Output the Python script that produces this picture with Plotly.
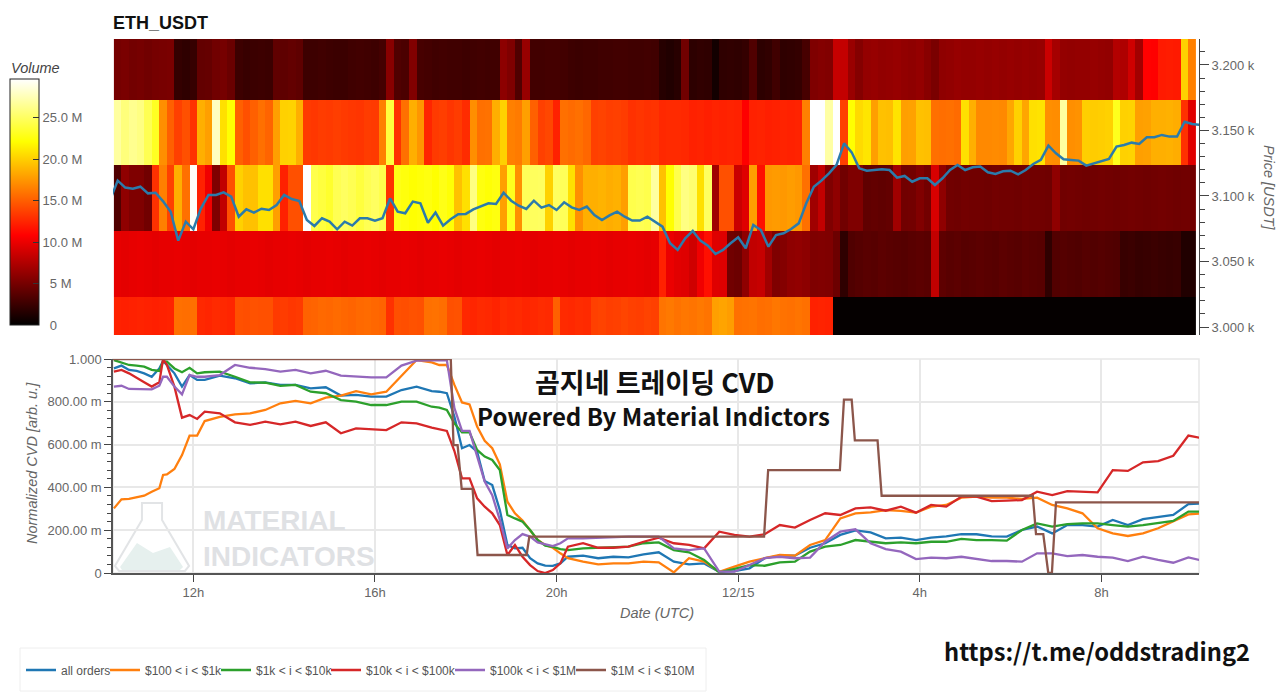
import numpy as np
import plotly.graph_objects as go

# volume per price bin, in millions, one value per 10 min column
vol_2998 = [12.3,12.2,12.3,12.4,12.3,12.2,12.3,12.4, 15.8,15.7,15.8, 12.6,12.5,12.7,12.6,12.5,
            14.4,14.3,14.5,14.4,14.4, 13.4,13.5,13.3,13.4, 15.2,15.3,15.5,15.4,15.6,15.4,15.3,15.5,15.6,15.4,15.3,
            13.0, 14.4,14.3,14.5,14.4, 15.8,15.9,15.7, 14.4,14.5,
            12.6,12.5,12.7,12.6,12.4,12.8,12.6,12.7,12.5,12.6,12.8,12.7, 15.1, 12.7,12.6,12.8,12.7,
            13.7,13.8,13.6,13.7,13.9,13.7,13.6,13.8,13.7,
            16.0,16.2,15.9,16.1,16.0,16.2,16.0, 17.9,18.1,17.8,
            15.8,15.9,16.0,15.7,15.8,16.1,15.9,15.8,16.0,15.8, 12.3,12.4,12.3,
            0.2,0.2,0.2,0.2,0.2,0.2,0.2,0.2,0.2,0.2,0.2,0.2,0.2,0.2,0.2,0.2,
            0.2,0.2,0.2,0.2,0.2,0.2,0.2,0.2,0.2,0.2,0.2,0.2,0.2,0.2,0.2,0.2,
            0.2,0.2,0.2,0.2,0.2,0.2,0.2,0.2,0.2,0.2,0.2,0.2,0.2,0.2,0.2,0.2]
vol_3048 = [9.8,9.7,9.8,9.9,9.8,9.7,9.8,9.8,9.9,9.8,9.7,9.8,9.8,9.9,9.8,9.7,9.8,9.8,9.9,9.8,9.7,9.8,9.8,9.9,
            9.8,9.7,9.8,9.8,9.9,9.8,9.7,9.8,9.8,9.9,9.8,9.7,9.8,9.8,9.9,9.8,9.7,9.8,9.8,9.9,9.8,9.7,9.8,9.8,
            9.9,9.8,9.7,9.8,9.8,9.9,9.8,9.7,9.8,9.8,9.9,9.8,9.7,9.8,9.8,9.9,9.8,9.7,9.8,9.8,9.9,9.8,9.7,9.8,
            12.3,10.0,9.6,9.5,8.8,10.2,11.5,9.5,9.4,4.8,4.6,6.1,8.2,8.4,6.8,5.4,5.6,6.1,6.2,6.0,5.4,5.5,5.4,4.6,2.0,
            3.4,3.6,3.8,3.7,3.9,3.8,3.7,3.6,3.8,3.9,3.8,8.2,4.0,3.8,3.9,3.7,3.8,3.9,3.8,3.7,3.9,3.8,3.7,3.9,3.8,3.7,
            2.0,3.5,3.6,3.5,3.4,3.6,3.5,3.6,3.5,3.4,2.4,2.5,2.3,2.4,2.5,2.4,2.3,2.4,1.4,1.4]
vol_3098 = [3.4,6.1,5.4,5.4,4.8,13.0,16.5,13.7,18.6,15.8,29.5,12.3,10.2,5.4,8.2,14.4,20.1,19.4,19.4,20.8,20.8,17.9,12.3,14.4,14.4,
            29.7,24.4,24.0,23.5,24.6,25.0,24.6,24.0,24.6,25.0,24.4,13.0,22.8,22.5,22.2,22.4,22.6,22.2,22.8,22.3,19.4,20.8,26.0,22.6,22.3,22.6,
            17.9,23.0,17.2,24.8,24.9,25.0,20.1,25.0,24.8,20.8,17.2,18.6,18.6,18.8,18.5,18.7,17.9,24.4,24.6,24.4,26.9,19.4,22.2,24.4,26.0,25.5,20.8,25.0,
            6.8,14.4,14.4,8.6,9.5,17.9,11.5,17.6,17.7,17.6,17.8,17.6,15.8,6.8,8.2,5.4,6.1,4.8,5.4,5.4,4.1,4.2,4.1,4.2,6.8,4.8,4.9,5.5,4.9,9.2,6.1,
            4.8,4.7,4.9,4.8,4.8,4.7,4.9,4.8,4.8,4.7,4.9,4.8,4.8,4.7,6.1,4.8,4.9,4.8,4.7,4.8,4.9,4.8,4.7,4.8,4.9,4.8,4.7,4.8,4.9,4.8,4.7,4.8,4.8]
vol_3148 = [26.9,25.8,26.4,26.0,24.6,23.2,17.2,15.1,13.7,14.4,13.0,18.6,17.9,27.8,20.8,22.2,15.1,14.4,15.1,15.8,15.3,17.9,20.1,20.2,18.6,
            13.4,13.3,13.5,13.4,13.6,13.4,13.3,13.2,13.5,13.4,16.5,24.0,13.0,15.8,18.6,17.5,12.5,13.4,13.6,13.2,13.5,12.8,17.2,15.8,15.9,18.6,20.1,
            16.5,16.3,17.9,15.1,13.7,14.0,12.3,15.8,15.6,15.8,15.4,13.7,13.8,13.6,13.7,13.5,13.0,13.2,13.0,13.1,12.6,12.7,12.7,12.6,12.3,12.4,12.2,
            12.4,12.3,12.4,12.3,10.8,12.3,12.4,12.2,12.3,12.4,12.3,12.4,16.5,29.7,29.7,27.0,29.7,13.7,22.2,20.5,21.0,17.9,19.4,19.3,20.9,17.9,18.0,
            19.4,19.3,15.8,15.7,15.8,15.6,20.8,18.6,16.9,16.9,17.0,16.9,18.2,20.1,18.2,20.8,20.9,17.2,17.1,26.9,17.2,17.3,20.0,19.9,20.0,20.1,23.0,
            20.1,20.2,17.9,18.0,18.6,18.6,18.7,18.5,13.0,9.5]
vol_3198 = [5.0,5.2,4.9,5.0,4.8,5.0,5.1,5.2,2.2,2.0,2.3,4.2,4.3,4.8,5.0,4.5,2.6,2.4,2.5,2.6,2.5,4.1,4.0,4.2,4.0,
            2.6,2.6,2.7,2.6,2.5,2.5,2.7,2.8,2.7,2.6,2.9,5.8,3.4,3.2,5.5,3.0,2.9,2.7,2.8,2.7,2.7,2.6,2.7,2.8,2.7,2.7,
            6.0,5.4,3.4,6.4,2.8,2.8,2.9,2.9,2.8,2.6,2.5,2.6,2.6,2.7,2.7,2.8,2.8,2.7,2.7,2.8,2.7,1.6,1.4,1.7,4.8,1.9,2.1,2.0,0.8,
            2.0,2.1,2.0,2.2,3.4,1.9,2.1,2.7,2.0,2.1,2.2,3.0,5.4,5.6,5.5,8.4,8.3,6.5,5.6,6.3,6.4,6.2,6.3,6.4,6.2,6.1,6.3,5.8,5.2,
            6.1,6.2,6.4,6.3,6.3,6.4,6.3,6.4,6.3,6.4,6.3,6.4,6.3,6.4,8.6,7.0,6.3,6.2,6.3,6.3,6.4,6.3,6.2,7.6,7.4,8.8,6.9,10.9,10.8,12.0,12.1,12.0,20.1,16.5]
price_bins = [2998.5, 3048.5, 3098.5, 3148.5, 3198.5]

price = [3096.9,3111.7,3106.4,3105.6,3107.1,3102.0,3102.5,3095.9,3088.0,3065.9,3080.4,3074.6,3090.6,3100.8,3100.8,
         3102.8,3099.5,3084.2,3089.8,3087.3,3090.3,3089.3,3093.1,3100.8,3097.7,3096.2,3081.7,3077.1,3083.0,3080.4,
         3074.6,3080.4,3077.4,3083.0,3083.0,3081.2,3083.0,3098.2,3088.0,3086.8,3095.7,3094.4,3079.6,3087.3,3077.4,
         3082.2,3086.0,3086.3,3089.8,3091.9,3094.4,3093.9,3102.5,3096.4,3092.6,3090.1,3096.4,3091.1,3093.1,3089.3,
         3095.2,3091.3,3089.3,3091.9,3085.5,3081.7,3085.2,3088.0,3084.2,3081.2,3081.2,3084.2,3080.4,3076.6,3063.9,
         3058.8,3067.7,3073.3,3065.9,3062.1,3055.7,3058.8,3063.9,3068.4,3060.1,3077.9,3074.0,3061.3,3070.2,3071.5,
         3074.8,3079.1,3094.4,3107.1,3111.7,3117.3,3123.7,3140.2,3133.3,3121.1,3119.3,3119.6,3120.4,3119.8,3114.0,
         3115.3,3110.9,3113.5,3113.5,3108.4,3113.5,3119.8,3123.7,3119.8,3121.9,3122.4,3118.1,3116.8,3118.8,3119.3,
         3116.5,3119.8,3124.4,3127.5,3138.4,3132.6,3128.0,3127.5,3127.0,3123.2,3124.9,3126.7,3128.2,3137.7,3138.9,
         3140.7,3139.7,3144.8,3144.8,3146.6,3145.3,3145.3,3156.7,3155.0,3154.2]

# normalized cvd, read every 20 min, closer together where the lines move fast
cvd_hours = ([10.25, 10.417, 10.583, 10.75, 10.917, 11.083, 11.25, 11.333, 11.417, 11.583, 11.75, 11.917, 12.083]
             + list(np.arange(12.25, 17.2, 1 / 3))
             + [17.25, 17.417, 17.583, 17.75, 17.917, 18.083, 18.25, 18.417, 18.583, 18.75, 18.917, 19.083, 19.25,
                19.417, 19.583, 19.75, 19.917, 20.083, 20.25]
             + list(np.arange(20.5833, 34.3, 1 / 3)))
cvd_all = [.956,.969,.949,.944,.933,.917,.956,.991,.972,.933,.871,.925,.902,
           .902,.922,.91,.886,.891,.879,.879,.863,.868,.829,.832,.824,.824,.855,.871,
           .85,.847,.84,.73,.583,.598,.567,.43,.411,.294,.131,.115,.118,.069,.045,.034,.033,.045,.076,
           .081,.069,.076,.073,.087,.097,.053,.04,.045,.006,.009,.022,.069,.081,.081,.118,.139,
           .178,.199,.19,.162,.165,.154,.165,.171,.182,.181,.171,.17,.201,.217,.185,.224,.224,.217,.248,.224,.252,.263,.271,.322,.325]
cvd_100 = [.302,.344,.346,.352,.361,.38,.396,.458,.461,.486,.551,.642,.642,
           .71,.73,.741,.746,.762,.793,.804,.793,.819,.829,.85,.835,.847,.922,.995,
           .984,.972,.972,.879,.797,.788,.684,.618,.583,.508,.333,.279,.245,.201,.154,.131,.118,.092,.069,
           .053,.04,.045,.045,.053,.05,.003,.069,.053,.006,.03,.053,.069,.084,.081,.131,.154,
           .255,.279,.283,.294,.29,.282,.31,.318,.352,.357,.352,.352,.346,.352,.318,.302,.279,.209,.185,.173,.185,.209,.24,.274,.279]
cvd_1k = [.995,.984,.972,.969,.964,.949,.944,.988,.988,.956,.938,.959,.933,
          .938,.941,.917,.891,.889,.874,.879,.847,.84,.808,.801,.785,.785,.801,.801,
          .777,.773,.762,.699,.657,.657,.575,.544,.528,.481,.271,.255,.24,.201,.154,.128,.122,.112,.107,
          .115,.118,.118,.123,.139,.143,.107,.097,.061,.003,.019,.037,.034,.05,.053,.1,.123,
          .131,.154,.146,.139,.143,.139,.146,.146,.159,.154,.154,.151,.201,.232,.217,.228,.232,.232,.224,.217,.224,.232,.243,.287,.287]
cvd_10k = [.941,.949,.933,.91,.891,.871,.891,1.0,.972,.871,.726,.738,.72,
           .754,.746,.704,.692,.707,.695,.707,.687,.704,.653,.676,.671,.668,.704,.699,
           .679,.673,.664,.57,.442,.442,.349,.31,.279,.224,.084,.131,.076,.037,.009,0,.014,.045,.123,
           .139,.118,.118,.123,.146,.165,.139,.131,.115,.193,.178,.17,.181,.224,.212,.248,.279,
           .271,.302,.307,.291,.31,.282,.318,.31,.357,.357,.336,.338,.341,.38,.364,.383,.38,.377,.481,.477,.517,.523,.548,.642,.629]
cvd_100k = [.871,.875,.86,.86,.858,.858,.875,.917,.917,.871,.835,.925,.917,
            .917,.925,.972,.959,.953,.941,.949,.933,.945,.922,.917,.914,.914,.969,.992,
            .995,.995,.995,.77,.664,.664,.551,.427,.364,.248,.115,.154,.182,.17,.143,.136,.126,.139,.162,
            .162,.165,.17,.17,.17,.17,.115,.107,.115,.006,.006,.037,.069,.076,.069,.072,.146,
            .193,.204,.139,.112,.1,.065,.072,.069,.076,.065,.056,.056,.053,.092,.092,.079,.084,.076,.072,.056,.076,.061,.048,.073,.056]
# the biggest order class moves in steps, so it gets its own times
cvd_1m_hours = [10.17,17.67,17.73,17.82,17.91,18.15,18.26,19.34,19.40,24.57,24.66,26.24,26.33,26.5,26.57,27.07,27.16,
                30.49,30.56,30.72,30.83,30.91,31.0,34.16]
cvd_1m = [1.0,1.0,.598,.598,.393,.393,.084,.084,.17,.17,.481,.481,.81,.81,.62,.62,.361,.361,.182,.182,0,0,.33,.33]

series_names = ["all orders", "$100 < i < $1k", "$1k < i < $10k", "$10k < i < $100k", "$100k < i < $1M", "$1M < i < $10M"]
series_colors = ["#1f77b4", "#ff7f0e", "#2ca02c", "#d62728", "#9467bd", "#8c564b"]
legend_widths = [39, 66, 65, 79, 76, 95]

hour_ticks = [12, 16, 20, 24, 28, 32]
hour_labels = ["12h", "16h", "20h", "12/15", "4h", "8h"]
volume_ticks = [0, 5, 10, 15, 20, 25]
nb = "\u00a0"
volume_labels = [nb * 2 + "0", nb * 2 + "5 M", "10.0 M", "15.0 M", "20.0 M", "25.0 M"]
price_ticks = [3000, 3050, 3100, 3150, 3200]
price_labels = ["3.000 k", "3.050 k", "3.100 k", "3.150 k", "3.200 k"]
cvd_ticks = [0, .2, .4, .6, .8, 1]
cvd_labels = ["0", "200.00 m", "400.00 m", "600.00 m", "800.00 m", "1.000"]

W, H = 1280, 692
GREY = "#666666"
FONT = "Liberation Sans"
CJK = "Noto Sans CJK KR"


def px(x):
    return x / W


def py(y):
    return 1 - y / H


def path(points):
    return "M " + " L ".join(f"{px(x):.4f},{py(y):.4f}" for x, y in points)


heat_hours = 10.25 + (np.arange(len(vol_3198)) + 0.5) / 6
price_hours = 10 + 1 / 6 + np.arange(len(price)) / 6

fig = go.Figure()
fig.add_trace(go.Heatmap(
    x=heat_hours, y=price_bins,
    z=[vol_2998, vol_3048, vol_3098, vol_3148, vol_3198],
    zmin=0, zmax=29.7,
    colorscale=[[0, "#000000"], [0.365, "#ff0000"], [0.746, "#ffff00"], [1, "#ffffff"]],
    xaxis="x", yaxis="y", hoverinfo="skip",
    colorbar=dict(
        x=px(10), xanchor="left", xpad=0, y=py(79), yanchor="top", ypad=0,
        lenmode="pixels", len=246, thicknessmode="pixels", thickness=29,
        outlinecolor="#222222", outlinewidth=1,
        ticks="inside", ticklen=6, tickcolor="#333333",
        tickvals=volume_ticks, ticktext=volume_labels,
        tickfont=dict(family=FONT, size=13, color=GREY),
    ),
))
fig.add_trace(go.Scatter(x=price_hours, y=price, mode="lines", line=dict(color="#2b7bab", width=2.5),
                         xaxis="x", yaxis="y", showlegend=False))

cvd_values = [cvd_all, cvd_100, cvd_1k, cvd_10k, cvd_100k]
for name, color, width, values in zip(series_names, series_colors, legend_widths, cvd_values):
    fig.add_trace(go.Scatter(x=cvd_hours, y=values, mode="lines", name=name, line=dict(color=color, width=2.3),
                             xaxis="x2", yaxis="y2", legendwidth=width))
fig.add_trace(go.Scatter(x=cvd_1m_hours, y=cvd_1m, mode="lines", name=series_names[5],
                         line=dict(color=series_colors[5], width=2.3), xaxis="x2", yaxis="y2",
                         legendwidth=legend_widths[5]))

hour_range = [10.23, 34.15]
tick_font = dict(family=FONT, size=13, color=GREY)
fig.update_layout(
    width=W, height=H,
    margin=dict(l=0, r=0, t=0, b=0, autoexpand=False),
    paper_bgcolor="white", plot_bgcolor="white",
    font=dict(family=FONT),
    xaxis=dict(domain=[px(113), px(1199)], range=hour_range, anchor="y", showticklabels=False,
               ticks="", showgrid=False, zeroline=False),
    yaxis=dict(domain=[py(335), py(39)], range=[2993.9, 3219.8], anchor="x", side="right",
               tickvals=price_ticks, ticktext=price_labels, tickfont=tick_font,
               ticks="outside", ticklen=9, tickcolor="#444444", showline=True, linecolor="#444444", linewidth=1,
               showgrid=False, zeroline=False,
               minor=dict(ticks="outside", ticklen=5, tickcolor="#444444", dtick=10, tick0=3000)),
    xaxis2=dict(domain=[px(113), px(1199)], range=hour_range, anchor="y2",
                tickvals=hour_ticks, ticktext=hour_labels, tickfont=tick_font,
                ticks="outside", ticklen=7, tickcolor="#444444", showline=True, linecolor="#555555", linewidth=1.5,
                showgrid=True, gridcolor="#e8e8e8", gridwidth=1.5, zeroline=False),
    yaxis2=dict(domain=[py(573), py(359)], range=[0, 1], anchor="x2",
                tickvals=cvd_ticks, ticktext=cvd_labels, tickfont=tick_font,
                ticks="outside", ticklen=7, tickcolor="#444444", showline=True, linecolor="#555555", linewidth=1.5,
                showgrid=True, gridcolor="#e8e8e8", gridwidth=1.5, zeroline=False,
                minor=dict(ticks="outside", ticklen=4, tickcolor="#444444", dtick=.04, tick0=0)),
    legend=dict(orientation="h", x=px(21), xanchor="left", y=py(670), yanchor="middle",
                bgcolor="rgba(0,0,0,0)", font=dict(family=FONT, size=12, color="#555555"), itemwidth=30),
    shapes=[
        dict(type="rect", xref="paper", yref="paper", x0=px(20), x1=px(706), y0=py(691), y1=py(648),
             line=dict(color="#eeeeee", width=1), layer="below"),
        dict(type="rect", xref="paper", yref="paper", x0=px(113), x1=px(1199), y0=py(573), y1=py(359),
             line=dict(color="#e8e8e8", width=1.5), layer="below"),
        dict(type="path", xref="paper", yref="paper", layer="below",
             path=path([(120, 567), (137, 543), (153, 553), (170, 547), (183, 567), (180, 570), (122, 570)]) + " Z",
             fillcolor="#e6f0ee", line=dict(width=0)),
        dict(type="path", xref="paper", yref="paper", layer="below",
             path=path([(142, 503), (162, 503), (162, 520), (189, 566), (185, 571), (119, 571), (115, 566), (142, 520)]) + " Z",
             line=dict(color="#e2e4e6", width=2)),
    ],
    annotations=[
        dict(text="<b>ETH_USDT</b>", x=px(111), y=py(23), xanchor="left", font=dict(family=FONT, size=18, color="#111111")),
        dict(text="Volume", x=px(9), y=py(68), xanchor="left", font=dict(family=FONT, size=14.5, color="#444444", style="italic")),
        dict(text="Normalized CVD [arb. u.]", x=px(32), y=py(463), textangle=-90, xanchor="center", font=dict(family=FONT, size=14.5, color=GREY, style="italic")),
        dict(text="Price [USDT]", x=px(1269), y=py(188), textangle=90, xanchor="center", font=dict(family=FONT, size=14.5, color=GREY, style="italic")),
        dict(text="Date (UTC)", x=px(657), y=py(613), xanchor="center", font=dict(family=FONT, size=14.5, color=GREY, style="italic")),
        dict(text="<b>MATERIAL</b>", x=px(201), y=py(520), xanchor="left", font=dict(family=FONT, size=28, color="#dfe1e4")),
        dict(text="<b>INDICATORS</b>", x=px(201), y=py(556), xanchor="left", font=dict(family=FONT, size=28, color="#dfe1e4")),
        dict(text="<b>곰지네 트레이딩 CVD</b>", x=px(655), y=py(381), xanchor="center", font=dict(family=CJK, size=27, color="#111111")),
        dict(text="<b>Powered By Material Indictors</b>", x=px(653), y=py(415), xanchor="center", font=dict(family=CJK, size=24, color="#111111")),
        dict(text="<b>https://t.me/oddstrading2</b>", x=px(1097), y=py(651), xanchor="center", font=dict(family=CJK, size=23.7, color="#111111")),
    ],
)
for a in fig.layout.annotations:
    a.xref = "paper"
    a.yref = "paper"
    a.showarrow = False
    a.yanchor = "middle"

assert all(len(v) == len(cvd_hours) for v in cvd_values), (len(cvd_hours), [len(v) for v in cvd_values])

fig.write_html("out.html", config=dict(displayModeBar=False), post_script="document.body.style.margin='0';")
